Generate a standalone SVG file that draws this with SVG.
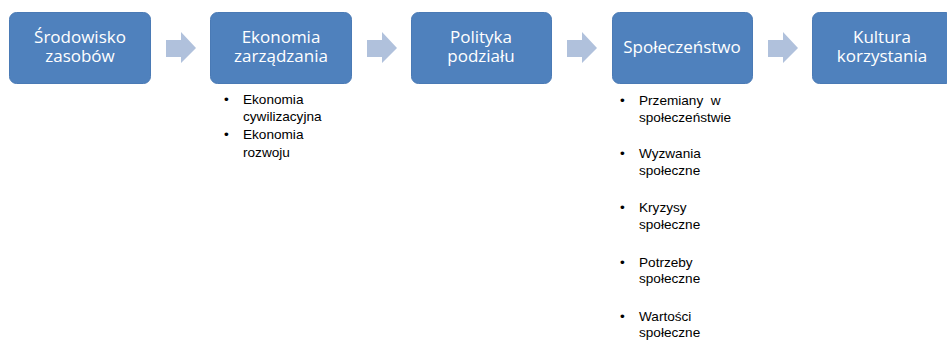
<svg xmlns="http://www.w3.org/2000/svg" width="947" height="340" viewBox="0 0 947 340">
<style>
.box{fill:#4F81BD;stroke:#4A7AB5;stroke-width:1}
.bt{font-family:"Open Sans","Noto Sans",sans-serif;font-size:17px;fill:#FFFFFF;text-anchor:middle}
.arr{fill:#B0C1DC}
.li{font-family:"Liberation Sans",Arial,sans-serif;font-size:13.6px;fill:#000000}
</style>
<rect width="947" height="340" fill="#FFFFFF"/>
<g id="connectors">
<polygon class="arr" points="166,40 181,40 181,32 196,48 181,63 181,57 166,57"/>
<polygon class="arr" points="367,40 382,40 382,32 397,48 382,63 382,57 367,57"/>
<polygon class="arr" points="567,40 582,40 582,32 597,48 582,63 582,57 567,57"/>
<polygon class="arr" points="768,40 783,40 783,32 798,48 783,63 783,57 768,57"/>
</g>
<g id="node1">
<rect class="box" x="9.5" y="12.5" width="141" height="71" rx="7"/>
<text class="bt" x="80" y="43">Środowisko</text>
<text class="bt" x="80" y="62">zasobów</text>
</g>
<g id="node2">
<rect class="box" x="210.5" y="12.5" width="141" height="71" rx="7"/>
<text class="bt" x="281" y="43">Ekonomia</text>
<text class="bt" x="281" y="62">zarządzania</text>
</g>
<g id="node3">
<rect class="box" x="411.5" y="12.5" width="140" height="71" rx="7"/>
<text class="bt" x="481" y="43">Polityka</text>
<text class="bt" x="481" y="62">podziału</text>
</g>
<g id="node4">
<rect class="box" x="612.5" y="12.5" width="140" height="71" rx="7"/>
<text class="bt" x="682" y="53">Społeczeństwo</text>
</g>
<g id="node5">
<rect class="box" x="812.5" y="12.5" width="141" height="71" rx="7"/>
<text class="bt" x="882" y="43">Kultura</text>
<text class="bt" x="882" y="62">korzystania</text>
</g>
<g id="list2" class="li">
<text x="224" y="104">•</text><text x="243" y="104">Ekonomia</text>
<text x="243" y="121">cywilizacyjna</text>
<text x="224" y="139">•</text><text x="243" y="139">Ekonomia</text>
<text x="243" y="157">rozwoju</text>
</g>
<g id="list4" class="li">
<text x="620" y="105">•</text><text x="639" y="105" xml:space="preserve">Przemiany  w</text>
<text x="639" y="122">społeczeństwie</text>
<text x="620" y="158">•</text><text x="639" y="158">Wyzwania</text>
<text x="639" y="175">społeczne</text>
<text x="620" y="212">•</text><text x="639" y="212">Kryzysy</text>
<text x="639" y="229">społeczne</text>
<text x="620" y="267">•</text><text x="639" y="267">Potrzeby</text>
<text x="639" y="283">społeczne</text>
<text x="620" y="321">•</text><text x="639" y="321">Wartości</text>
<text x="639" y="337">społeczne</text>
</g>
</svg>
